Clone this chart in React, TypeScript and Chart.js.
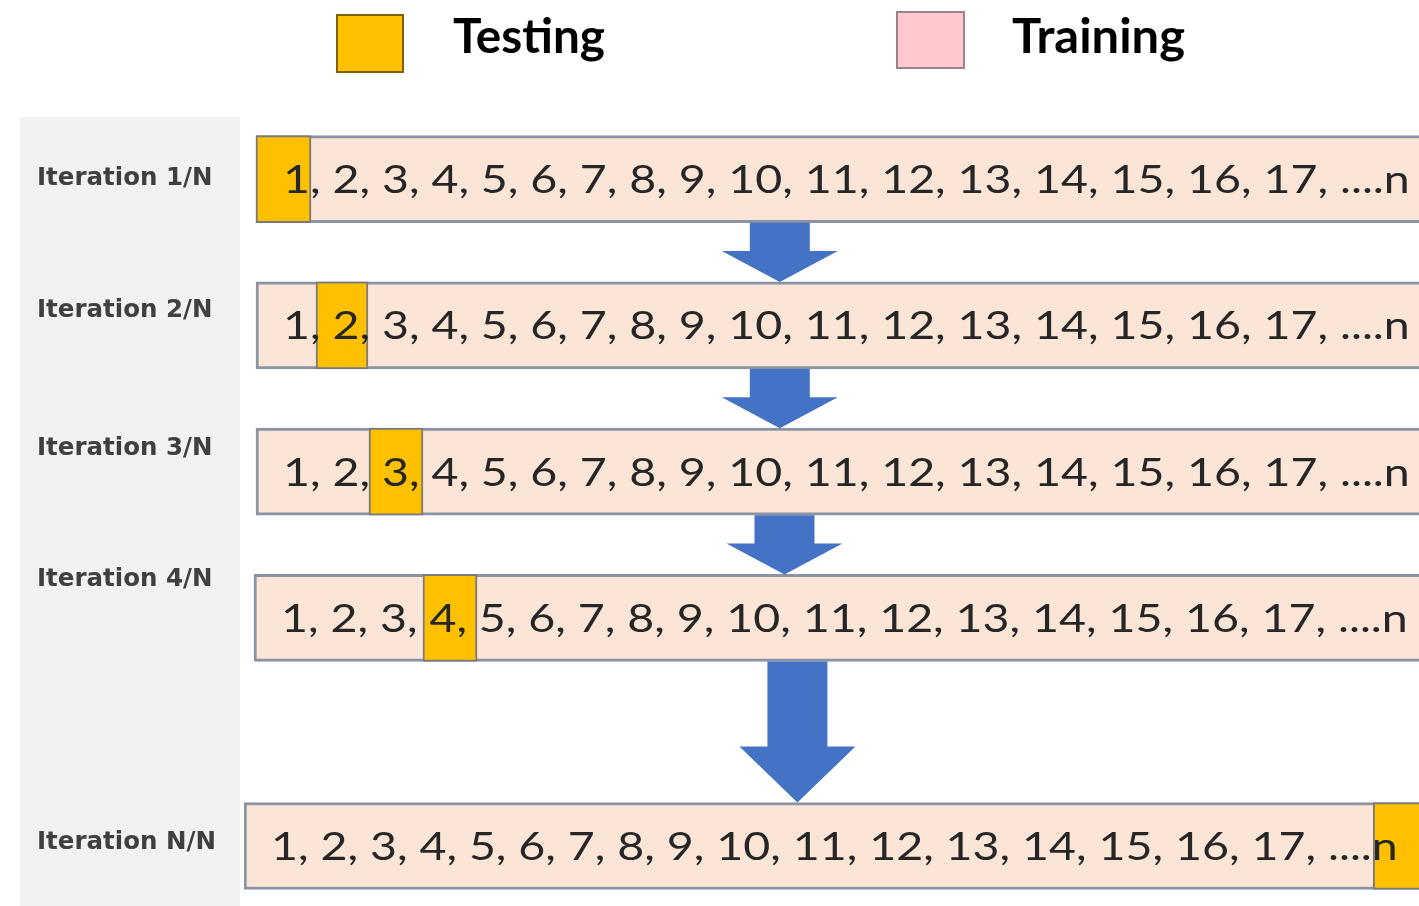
import React, { useEffect, useRef } from 'react';
import { Chart, registerables } from 'chart.js';

Chart.register(...registerables);

// ---- data ----
const iterationLabels = ['Iteration 1/N', 'Iteration 2/N', 'Iteration 3/N', 'Iteration 4/N', 'Iteration N/N'];
const rowPos = [1, 2, 3, 4, 5.56];
const labelRows = [1.0, 1.9, 2.84, 3.74, 5.54];
const trainingStart = [1.02, 1.02, 1.02, 0.85, 0];
const trainingEnd = [102, 102, 102, 102, 102];
const testingStart = [1.02, 6.13, 10.64, 15.23, 96.1];
const testingEnd = [5.7, 10.55, 15.23, 19.83, 102];
const sampleNumbers = ['1', '2', '3', '4', '5', '6', '7', '8', '9', '10', '11', '12', '13', '14', '15', '16', '17'];
const sequenceTail = '....n';
const sequenceSpan = 95.9;
const arrowX = [45.6, 45.6, 46.0, 47.1];
const legendLabels = ['Testing', 'Training'];

const seqText = sampleNumbers.join(', ') + ', ' + sequenceTail;

const panelPlugin = {
  id: 'panel',
  beforeDraw(chart: any) {
    const { ctx, chartArea } = chart;
    ctx.save();
    ctx.fillStyle = '#F2F2F2';
    const top = chartArea.top + 11;
    ctx.fillRect(20, top, chartArea.left - 4 - 20, chart.height - top);
    ctx.restore();
  },
};

const overlayPlugin = {
  id: 'overlay',
  afterDatasetsDraw(chart: any) {
    const { ctx } = chart;
    const xs = chart.scales.x;
    const training = chart.getDatasetMeta(1).data;

    // arrows between consecutive rows
    ctx.save();
    ctx.fillStyle = '#4472C4';
    for (let i = 0; i < training.length - 1; i++) {
      const a = training[i];
      const b = training[i + 1];
      const top = a.y + a.height / 2;
      const bottom = b.y - b.height / 2;
      const cx = xs.getPixelForValue(arrowX[i]);
      const sh = 30;
      const hh = 58;
      const headH = Math.min(56, (bottom - top) * 0.52);
      ctx.beginPath();
      ctx.moveTo(cx - sh, top);
      ctx.lineTo(cx + sh, top);
      ctx.lineTo(cx + sh, bottom - headH);
      ctx.lineTo(cx + hh, bottom - headH);
      ctx.lineTo(cx, bottom);
      ctx.lineTo(cx - hh, bottom - headH);
      ctx.lineTo(cx - sh, bottom - headH);
      ctx.closePath();
      ctx.fill();
    }
    ctx.restore();

    // sequence text in each row
    ctx.save();
    ctx.font = '38px Lato';
    ctx.fillStyle = '#262626';
    ctx.textAlign = 'left';
    ctx.textBaseline = 'alphabetic';
    const w = ctx.measureText(seqText).width;
    const targetW = xs.getPixelForValue(sequenceSpan) - xs.getPixelForValue(0);
    const sx = targetW / w;
    training.forEach((bar: any) => {
      const left = Math.min(bar.x, bar.base);
      ctx.save();
      ctx.translate(left + 27, bar.y + 14);
      ctx.scale(sx, 1);
      ctx.fillText(seqText, 0, 0);
      ctx.restore();
    });
    ctx.restore();
  },
  afterDraw(chart: any) {
    const { ctx } = chart;
    const items = [
      { text: legendLabels[0], fill: '#FFC000', stroke: '#806000', bx: 337, by: 15, bw: 66, bh: 57, tx: 453, tw: 152 },
      { text: legendLabels[1], fill: '#FFC7CE', stroke: '#9C8286', bx: 897, by: 12, bw: 67, bh: 56, tx: 1012, tw: 173 },
    ];
    ctx.save();
    items.forEach((it) => {
      ctx.fillStyle = it.fill;
      ctx.fillRect(it.bx, it.by, it.bw, it.bh);
      ctx.strokeStyle = it.stroke;
      ctx.lineWidth = 2;
      ctx.strokeRect(it.bx, it.by, it.bw, it.bh);
      ctx.font = 'bold 48px Lato';
      ctx.fillStyle = '#000000';
      ctx.textBaseline = 'alphabetic';
      ctx.textAlign = 'left';
      const m = ctx.measureText(it.text).width;
      ctx.save();
      ctx.translate(it.tx, 53);
      ctx.scale(it.tw / m, 1);
      ctx.fillText(it.text, 0, 0);
      ctx.restore();
    });
    ctx.restore();
  },
};

export default function App() {
  const ref = useRef<HTMLCanvasElement>(null);

  useEffect(() => {
    if (!ref.current) return;
    const chart = new Chart(ref.current, {
      type: 'bar',
      data: {
        datasets: [
          {
            label: legendLabels[0],
            data: rowPos.map((y, i) => ({ y, x: [testingStart[i], testingEnd[i]] })) as any,
            backgroundColor: '#FFC000',
            borderColor: '#7A7A7A',
            borderWidth: 2,
            borderSkipped: false,
            grouped: false,
            barThickness: 87,
            clip: 0,
          } as any,
          {
            label: legendLabels[1],
            data: rowPos.map((y, i) => ({ y, x: [trainingStart[i], trainingEnd[i]] })) as any,
            backgroundColor: '#FBE5D6',
            borderColor: '#8A93A5',
            borderWidth: 3,
            borderSkipped: false,
            grouped: false,
            barThickness: 87,
            clip: 0,
          } as any,
        ],
      },
      options: {
        indexAxis: 'y',
        animation: false,
        responsive: false,
        devicePixelRatio: 1,
        layout: { padding: { left: 37, top: 106, right: 0, bottom: 0 } },
        plugins: {
          legend: { display: false },
          tooltip: { enabled: false },
        },
        scales: {
          x: { type: 'linear', min: 0, max: 100, display: false, offset: false },
          y: {
            type: 'linear',
            reverse: true,
            offset: false,
            min: 0.5,
            max: 5.97,
            grid: { display: false, offset: false },
            border: { display: false },
            afterBuildTicks: (axis: any) => {
              axis.ticks = labelRows.map((v) => ({ value: v }));
            },
            afterFit: (s: any) => {
              s.width = 207;
              s.paddingTop = 0;
              s.paddingBottom = 0;
            },
            ticks: {
              autoSkip: false,
              crossAlign: 'far',
              padding: 0,
              color: '#404040',
              font: { family: 'DejaVu Sans', weight: 'bold', size: 24.5 },
              callback: (_v: any, i: number) => iterationLabels[i],
            },
          } as any,
        },
      },
      plugins: [panelPlugin, overlayPlugin],
    });
    return () => chart.destroy();
  }, []);

  return (
    <div style={{ position: 'absolute', left: 0, top: 0, width: 1419, height: 906, background: '#ffffff' }}>
      <canvas ref={ref} width={1419} height={906} style={{ display: 'block', width: 1419, height: 906 }} />
    </div>
  );
}
